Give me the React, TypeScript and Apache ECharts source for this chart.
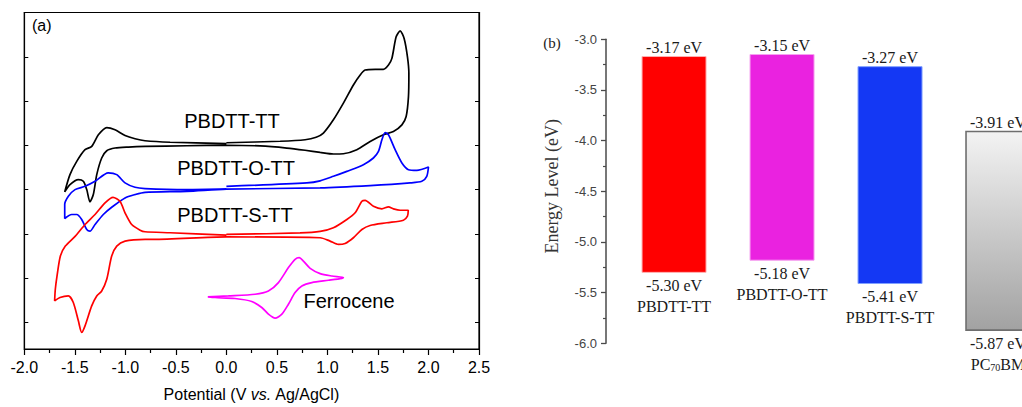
import React, { useEffect, useRef } from "react";
import * as echarts from "echarts";

// ---------- (a) Cyclic voltammograms: [potential (V vs. Ag/AgCl), current (offset, arb. units)]
const pbdttTT: [number, number][] = [
  [0.0, 4.058], [0.532, 4.092], [0.779, 4.126], [0.888, 4.182], [0.96, 4.276],
  [1.059, 4.576], [1.158, 4.952], [1.257, 5.363], [1.324, 5.589], [1.373, 5.701],
  [1.473, 5.717], [1.554, 5.717], [1.604, 5.814], [1.638, 5.964], [1.68, 6.451],
  [1.72, 6.586], [1.759, 6.415], [1.792, 6.0], [1.806, 5.627], [1.802, 5.1],
  [1.779, 4.65], [1.737, 4.463], [1.653, 4.312], [1.554, 4.238], [1.423, 4.087],
  [1.291, 3.901], [1.158, 3.81], [1.059, 3.804], [0.928, 3.84], [0.779, 3.889],
  [0.598, 3.939], [0.334, 3.986], [0.0, 4.002], [-0.392, 3.991], [-0.805, 3.975],
  [-0.97, 3.961], [-1.102, 3.939], [-1.184, 3.878], [-1.234, 3.714], [-1.283, 3.338],
  [-1.317, 2.888], [-1.35, 2.723], [-1.382, 3.0], [-1.416, 3.187], [-1.465, 3.225],
  [-1.548, 3.113], [-1.6, 2.948], [-1.548, 3.338], [-1.481, 3.637], [-1.399, 3.901],
  [-1.333, 3.975], [-1.267, 4.238], [-1.184, 4.402], [-1.102, 4.351], [-1.003, 4.222],
  [-0.904, 4.148], [-0.805, 4.103], [-0.557, 4.069], [0.0, 4.04],
];

const pbdttOTT: [number, number][] = [
  [0.0, 3.074], [0.796, 3.151], [0.928, 3.198], [1.059, 3.3], [1.192, 3.412],
  [1.356, 3.563], [1.455, 3.714], [1.505, 3.862], [1.539, 4.126], [1.571, 4.29],
  [1.604, 4.238], [1.67, 3.901], [1.737, 3.601], [1.802, 3.45], [1.885, 3.435],
  [2.0, 3.511], [1.983, 3.3], [1.934, 3.187], [1.818, 3.151], [1.422, 3.09],
  [0.928, 3.038], [0.0, 3.011], [-0.392, 2.962], [-0.805, 2.939], [-0.904, 2.888],
  [-1.003, 2.813], [-1.135, 2.602], [-1.218, 2.438], [-1.3, 2.212], [-1.35, 2.062],
  [-1.382, 2.1], [-1.432, 2.325], [-1.481, 2.438], [-1.531, 2.438], [-1.6, 2.348],
  [-1.6, 2.663], [-1.564, 2.849], [-1.498, 3.0], [-1.399, 3.074], [-1.3, 3.187],
  [-1.17, 3.38], [-1.085, 3.338], [-1.003, 3.151], [-0.904, 3.052], [-0.805, 3.023],
  [-0.392, 3.0], [0.0, 3.016],
];

const pbdttSTT: [number, number][] = [
  [0.0, 1.987], [0.73, 2.021], [0.928, 2.055], [1.059, 2.138], [1.192, 2.325],
  [1.274, 2.476], [1.341, 2.737], [1.373, 2.759], [1.455, 2.624], [1.539, 2.566],
  [1.604, 2.611], [1.653, 2.566], [1.72, 2.534], [1.8, 2.534], [1.792, 2.399],
  [1.752, 2.309], [1.588, 2.251], [1.422, 2.19], [1.341, 2.1], [1.257, 1.913],
  [1.175, 1.785], [1.109, 1.762], [1.026, 1.837], [0.928, 1.913], [0.0, 1.931],
  [-0.723, 1.875], [-0.805, 1.875], [-1.003, 1.837], [-1.085, 1.724], [-1.135, 1.499],
  [-1.184, 0.975], [-1.234, 0.711], [-1.283, 0.599], [-1.333, 0.374], [-1.399, -0.077],
  [-1.432, -0.225], [-1.465, 0.036], [-1.515, 0.45], [-1.564, 0.599], [-1.647, 0.563],
  [-1.7, 0.486], [-1.693, 0.749], [-1.676, 1.049], [-1.643, 1.499], [-1.594, 1.724],
  [-1.495, 1.949], [-1.399, 2.212], [-1.3, 2.438], [-1.201, 2.701], [-1.122, 2.825],
  [-1.053, 2.737], [-1.003, 2.476], [-0.937, 2.212], [-0.854, 2.084], [-0.805, 2.048],
  [-0.557, 2.026], [0.0, 1.972],
];

const ferrocene: [number, number][] = [
  [-0.184, 0.576], [0.02, 0.599], [0.284, 0.637], [0.416, 0.711], [0.515, 0.9],
  [0.614, 1.238], [0.68, 1.425], [0.72, 1.463], [0.762, 1.386], [0.829, 1.222],
  [0.928, 1.103], [1.044, 1.049], [1.158, 1.013], [1.143, 0.997], [1.01, 0.952],
  [0.846, 0.9], [0.747, 0.824], [0.68, 0.675], [0.614, 0.412], [0.549, 0.187],
  [0.482, 0.097], [0.416, 0.187], [0.35, 0.338], [0.251, 0.473], [0.086, 0.54],
  [-0.112, 0.563], [-0.184, 0.576],
];

const cvNames = ["PBDTT-TT", "PBDTT-O-TT", "PBDTT-S-TT", "Ferrocene"];
const cvData = [pbdttTT, pbdttOTT, pbdttSTT, ferrocene];
const cvColors = ["#000000", "#0000ff", "#ff0000", "#ff00ff"];

// ---------- (b) Energy levels (eV)
const materials = ["PBDTT-TT", "PBDTT-O-TT", "PBDTT-S-TT", "PC70BM"];
const lumoLevels = [-3.17, -3.15, -3.27, -3.91];
const homoLevels = [-5.3, -5.18, -5.41, -5.87];
const energyTicks = [-6.0, -5.5, -5.0, -4.5, -4.0, -3.5, -3.0];

const barFills: any[] = [
  "#ff0000",
  "#ea22e0",
  "#1438f4",
  new echarts.graphic.LinearGradient(0, 0, 0, 1, [
    { offset: 0, color: "#f3f3f3" },
    { offset: 1, color: "#a2a2a2" },
  ]),
];
const barStrokes = ["#ffb0b0", "#f5a0f0", "#80a0ff", "#6e6e6e"];

const SANS = '"Liberation Sans", Arial, sans-serif';
const SERIF = '"Liberation Serif", "Times New Roman", serif';

export default function App() {
  const ref = useRef<HTMLDivElement>(null);

  useEffect(() => {
    if (!ref.current) return;
    const chart = echarts.init(ref.current, undefined, { renderer: "svg" });

    const cvSeries = cvData.map((d, i) => ({
      name: cvNames[i],
      type: "line",
      xAxisIndex: 0,
      yAxisIndex: 0,
      data: d,
      symbol: "none",
      smooth: 0.25,
      lineStyle: { color: cvColors[i], width: 1.7 },
      silent: true,
    }));

    const levelSeries = {
      type: "custom",
      xAxisIndex: 1,
      yAxisIndex: 2,
      clip: false,
      data: materials.map((_, i) => [i, lumoLevels[i], homoLevels[i]]),
      encode: { x: 0, y: [1, 2] },
      renderItem: (params: any, api: any) => {
        const i = api.value(0);
        const lumo = api.value(1);
        const homo = api.value(2);
        const top = api.coord([i, lumo]);
        const bottom = api.coord([i, homo]);
        const w = 64;
        const cx = top[0];
        const label = materials[i].replace(/(\d+)/g, "{sub|$1}");
        return {
          type: "group",
          children: [
            {
              type: "rect",
              shape: { x: cx - w / 2, y: top[1], width: w, height: bottom[1] - top[1] },
              style: { fill: barFills[i], stroke: barStrokes[i], lineWidth: i === 3 ? 1.6 : 1 },
            },
            {
              type: "text",
              x: cx,
              y: top[1] - 9,
              style: {
                text: `${lumo.toFixed(2)} eV`,
                align: "center",
                verticalAlign: "middle",
                fontFamily: SERIF,
                fontSize: 16,
                fill: "#1a1a1a",
              },
            },
            {
              type: "text",
              x: cx,
              y: bottom[1] + 13,
              style: {
                text: `${homo.toFixed(2)} eV`,
                align: "center",
                verticalAlign: "middle",
                fontFamily: SERIF,
                fontSize: 16,
                fill: "#1a1a1a",
              },
            },
            {
              type: "text",
              x: cx,
              y: bottom[1] + 34,
              style: {
                text: label,
                align: "center",
                verticalAlign: "middle",
                fontFamily: SERIF,
                fontSize: 16,
                fill: "#1a1a1a",
                rich: {
                  sub: {
                    fontFamily: SERIF,
                    fontSize: 10,
                    fill: "#1a1a1a",
                    verticalAlign: "bottom",
                    padding: [6, 0, 0, 0],
                  },
                },
              },
            },
          ],
        };
      },
    };

    chart.setOption({
      animation: false,
      backgroundColor: "#ffffff",
      grid: [
        { left: 24.3, right: 543, top: 12.5, bottom: 57, show: true, borderColor: "#000", borderWidth: 1.2, backgroundColor: "transparent" },
        { left: 606, right: 0, top: 39.3, bottom: 63.7 },
      ],
      xAxis: [
        {
          type: "value",
          gridIndex: 0,
          min: -2,
          max: 2.5,
          interval: 0.5,
          position: "bottom",
          axisLine: { show: true, onZero: false, lineStyle: { color: "#000", width: 1.2 } },
          axisTick: { show: true, inside: false, length: 6, lineStyle: { color: "#000", width: 1.2 } },
          minorTick: { show: true, splitNumber: 2, length: 4, lineStyle: { color: "#000", width: 1.2 } },
          splitLine: { show: false },
          axisLabel: {
            fontFamily: SANS,
            fontSize: 16,
            color: "#000",
            margin: 10,
            formatter: (v: number) => v.toFixed(1),
          },
          name: "{a|Potential (V }{b|vs.}{a| Ag/AgCl)}",
          nameLocation: "middle",
          nameGap: 37,
          nameTextStyle: {
            rich: {
              a: { fontFamily: SANS, fontSize: 16, color: "#000" },
              b: { fontFamily: SANS, fontSize: 16, color: "#000", fontStyle: "italic" },
            },
          },
        },
        {
          type: "value",
          gridIndex: 1,
          min: -0.63,
          max: 3.222,
          show: false,
        },
      ],
      yAxis: [
        {
          type: "value",
          gridIndex: 0,
          min: -0.6,
          max: 7,
          splitNumber: 8,
          position: "left",
          axisLine: { show: true, onZero: false, lineStyle: { color: "#000", width: 1.2 } },
          axisTick: { show: true, inside: true, length: 4, lineStyle: { color: "#000", width: 1 } },
          axisLabel: { show: false },
          splitLine: { show: false },
        },
        {
          type: "value",
          gridIndex: 0,
          min: -0.6,
          max: 7,
          splitNumber: 8,
          position: "right",
          axisLine: { show: true, onZero: false, lineStyle: { color: "#000", width: 1.2 } },
          axisTick: { show: true, inside: true, length: 4, lineStyle: { color: "#000", width: 1 } },
          axisLabel: { show: false },
          splitLine: { show: false },
        },
        {
          type: "value",
          gridIndex: 1,
          min: energyTicks[0],
          max: energyTicks[energyTicks.length - 1],
          interval: 0.5,
          position: "left",
          axisLine: { show: true, onZero: false, lineStyle: { color: "#4a4a4a", width: 1.5 } },
          axisTick: { show: true, inside: false, length: 5, lineStyle: { color: "#4a4a4a", width: 1.3 } },
          minorTick: { show: true, splitNumber: 2, length: 3, lineStyle: { color: "#4a4a4a", width: 1.2 } },
          splitLine: { show: false },
          axisLabel: {
            fontFamily: SANS,
            fontSize: 13,
            color: "#444",
            margin: 9,
            formatter: (v: number) => v.toFixed(1),
          },
          name: "Energy Level (eV)",
          nameLocation: "middle",
          nameRotate: 90,
          nameGap: 45,
          nameTextStyle: { fontFamily: SERIF, fontSize: 18, color: "#333", padding: [0, 0, 0, 10] },
        },
      ],
      graphic: [
        { type: "text", left: 32, top: 17, style: { text: "(a)", fontFamily: SANS, fontSize: 16, fill: "#000" } },
        { type: "text", x: 232, y: 121, style: { text: cvNames[0], fontFamily: SANS, fontSize: 20, fill: "#000", align: "center", verticalAlign: "middle" } },
        { type: "text", x: 236, y: 168, style: { text: cvNames[1], fontFamily: SANS, fontSize: 20, fill: "#000", align: "center", verticalAlign: "middle" } },
        { type: "text", x: 235, y: 215, style: { text: cvNames[2], fontFamily: SANS, fontSize: 20, fill: "#000", align: "center", verticalAlign: "middle" } },
        { type: "text", x: 349, y: 301, style: { text: cvNames[3], fontFamily: SANS, fontSize: 20, fill: "#000", align: "center", verticalAlign: "middle" } },
        { type: "text", x: 552, y: 43, style: { text: "(b)", fontFamily: SERIF, fontSize: 15, fill: "#222", align: "center", verticalAlign: "middle" } },
      ],
      series: [...cvSeries, levelSeries],
    });

    return () => chart.dispose();
  }, []);

  return (
    <div
      ref={ref}
      style={{ position: "fixed", left: 0, top: 0, width: 1022, height: 407, background: "#fff" }}
    />
  );
}
